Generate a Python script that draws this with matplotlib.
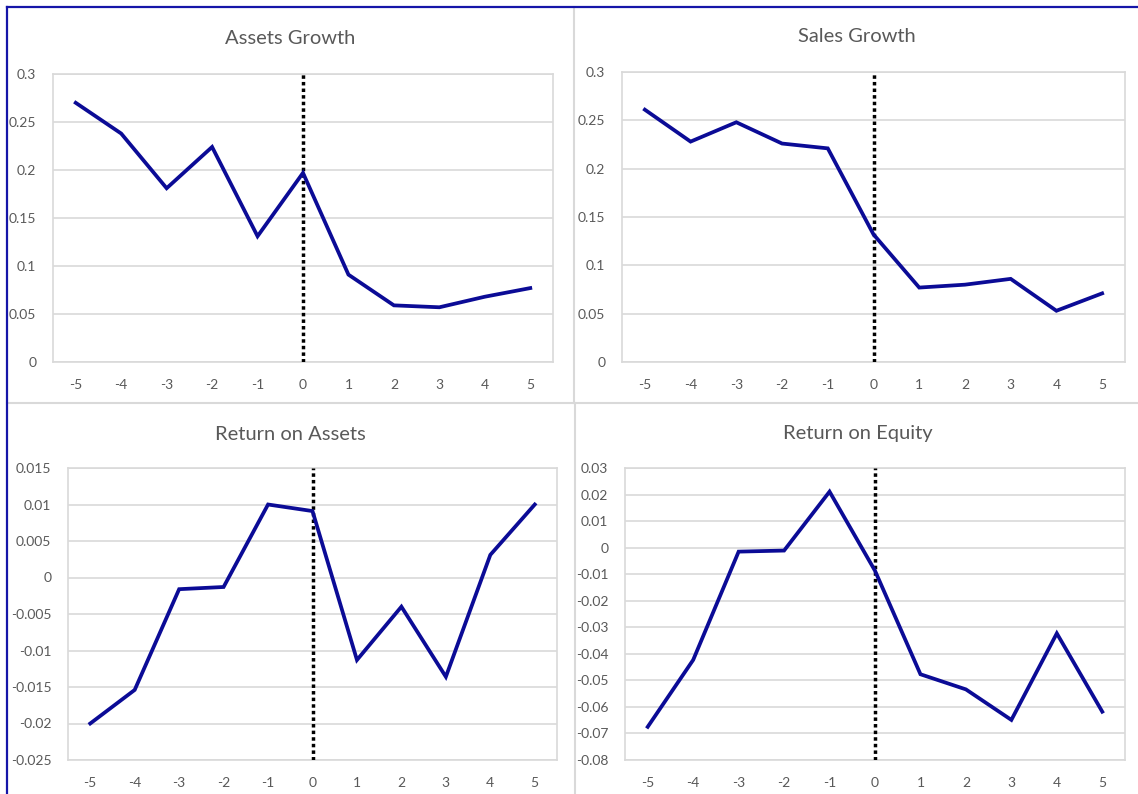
import matplotlib
matplotlib.use("Agg")
import matplotlib.pyplot as plt
from matplotlib.lines import Line2D

plt.rcParams['font.family'] = ['Lato', 'DejaVu Sans']

years = [-5, -4, -3, -2, -1, 0, 1, 2, 3, 4, 5]
year_labels = [str(y) for y in years]

assets_growth = [0.270, 0.238, 0.181, 0.224, 0.131, 0.197, 0.091, 0.059, 0.057, 0.068, 0.077]
sales_growth = [0.261, 0.228, 0.248, 0.226, 0.221, 0.132, 0.077, 0.080, 0.086, 0.053, 0.071]
return_on_assets = [-0.0200, -0.0154, -0.0016, -0.0013, 0.0100, 0.0091, -0.0113, -0.0040, -0.0136, 0.0031, 0.0100]
return_on_equity = [-0.0675, -0.0423, -0.0015, -0.0011, 0.0211, -0.0087, -0.0477, -0.0534, -0.0649, -0.0323, -0.0618]

titles = ["Assets Growth", "Sales Growth", "Return on Assets", "Return on Equity"]
series = [assets_growth, sales_growth, return_on_assets, return_on_equity]
y_ticks = [
    [0, 0.05, 0.1, 0.15, 0.2, 0.25, 0.3],
    [0, 0.05, 0.1, 0.15, 0.2, 0.25, 0.3],
    [-0.025, -0.02, -0.015, -0.01, -0.005, 0, 0.005, 0.01, 0.015],
    [-0.08, -0.07, -0.06, -0.05, -0.04, -0.03, -0.02, -0.01, 0, 0.01, 0.02, 0.03],
]
y_tick_labels = [
    ["0", "0.05", "0.1", "0.15", "0.2", "0.25", "0.3"],
    ["0", "0.05", "0.1", "0.15", "0.2", "0.25", "0.3"],
    ["-0.025", "-0.02", "-0.015", "-0.01", "-0.005", "0", "0.005", "0.01", "0.015"],
    ["-0.08", "-0.07", "-0.06", "-0.05", "-0.04", "-0.03", "-0.02", "-0.01", "0", "0.01", "0.02", "0.03"],
]

W, H = 1138, 794
fig = plt.figure(figsize=(W / 100, H / 100), dpi=100)
fig.patch.set_facecolor("white")

# plot-area boxes in pixels: left, top, right, bottom
boxes = [(53, 74, 553, 362), (622, 72, 1125, 362), (68, 468, 557, 760), (625, 468, 1125, 760)]
title_pos = [(290, 38), (857, 37), (290, 434), (858, 434)]

LINE = "#0B0B96"
GRID = "#D9D9D9"
TEXT = "#595959"

for i in range(4):
    l, t, r, b = boxes[i]
    ax = fig.add_axes([l / W, 1 - b / H, (r - l) / W, (b - t) / H])
    ax.set_xlim(-5.5, 5.5)
    ax.set_ylim(y_ticks[i][0], y_ticks[i][-1])
    ax.set_yticks(y_ticks[i])
    ax.set_yticklabels(y_tick_labels[i])
    ax.set_xticks(years)
    ax.set_xticklabels(year_labels)
    ax.grid(axis="y", color=GRID, linewidth=1.2)
    ax.set_axisbelow(True)
    for s in ax.spines.values():
        s.set_color(GRID)
        s.set_linewidth(1.2)
    ax.tick_params(length=0, labelsize=10, colors=TEXT)
    ax.tick_params(axis="y", pad=12)
    ax.tick_params(axis="x", pad=12)
    ax.axvline(0, color="black", linewidth=2.5, linestyle=(0, (1, 0.9)), zorder=3)
    ax.plot(years, series[i], color=LINE, linewidth=2.7, zorder=4, solid_joinstyle="miter")
    tx, ty = title_pos[i]
    fig.text(tx / W, 1 - ty / H, titles[i], ha="center", va="center", fontsize=14.5, color=TEXT)

# panel dividers
fig.add_artist(Line2D([573.5 / W, 573.5 / W], [1 - 7 / H, 1 - 403 / H], color=GRID, linewidth=1.5, transform=fig.transFigure))
fig.add_artist(Line2D([575 / W, 575 / W], [1 - 403 / H, 0], color=GRID, linewidth=1.5, transform=fig.transFigure))
fig.add_artist(Line2D([7 / W, 1], [1 - 403 / H, 1 - 403 / H], color=GRID, linewidth=1.5, transform=fig.transFigure))

# outer frame (top and left edges)
fig.add_artist(Line2D([6.5 / W, 1], [1 - 6.5 / H, 1 - 6.5 / H], color="#1515A8", linewidth=1.6, transform=fig.transFigure))
fig.add_artist(Line2D([6.5 / W, 6.5 / W], [1 - 6.5 / H, 0], color="#1515A8", linewidth=1.6, transform=fig.transFigure))

fig.savefig("out.png", dpi=100, facecolor="white")
